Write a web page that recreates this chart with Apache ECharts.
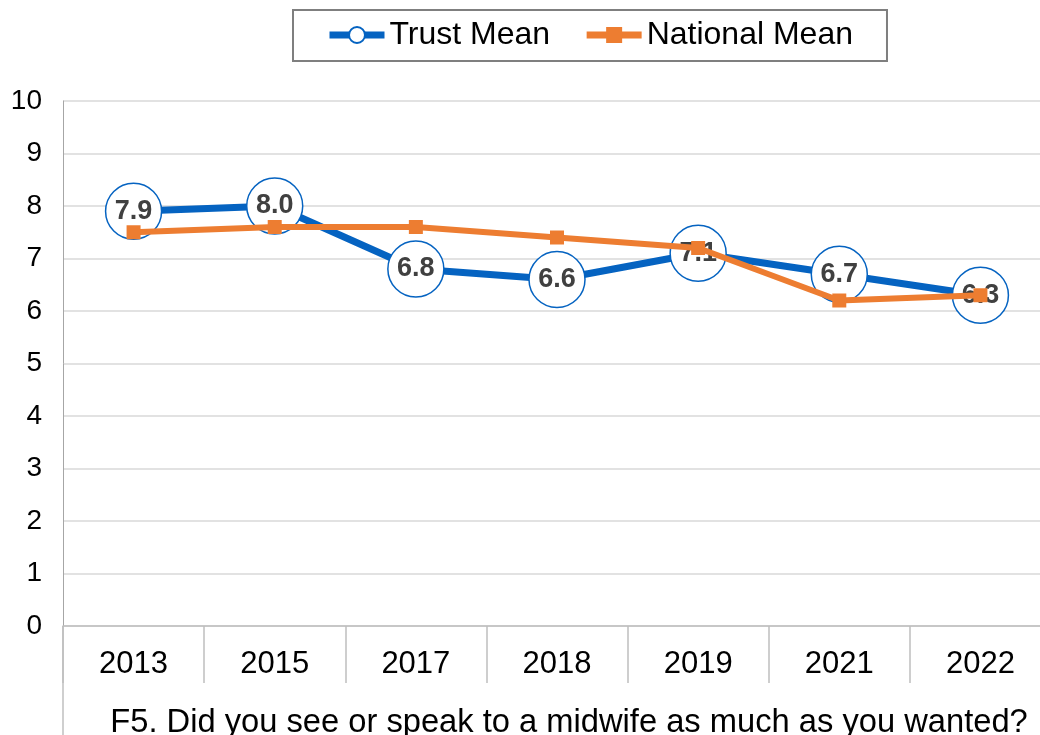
<!DOCTYPE html>
<html>
<head>
<meta charset="utf-8">
<script src="https://cdn.jsdelivr.net/npm/echarts@6/dist/echarts.min.js"></script>
<style>
  html, body { margin: 0; padding: 0; background: #fff; }
  #main { width: 1040px; height: 735px; }
</style>
</head>
<body>
<div id="main"></div>
<script>
var years = ['2013', '2015', '2017', '2018', '2019', '2021', '2022']
var trustMean = [7.9, 8.0, 6.8, 6.6, 7.1, 6.7, 6.3]
var nationalMean = [7.5, 7.6, 7.6, 7.4, 7.2, 6.2, 6.3]
var questionText = 'F5. Did you see or speak to a midwife as much as you wanted?'

var font = 'Liberation Sans, Arial, sans-serif'
var myChart = echarts.init(document.getElementById('main'))

var option = {
    animation: false,
    textStyle: { fontFamily: font },
    legend: {
        left: 293,
        top: 10,
        padding: [9, 34, 10, 33],
        borderColor: '#7f7f7f',
        borderWidth: 2,
        itemWidth: 55,
        itemHeight: 20,
        itemGap: 33,
        lineStyle: { width: 7 },
        textStyle: { fontSize: 32, color: '#000', fontFamily: font },
        data: ['Trust Mean', 'National Mean'],
    },
    grid: { left: 63, right: -11, top: 101, bottom: 109, outerBoundsMode: 'none', containLabel: false },
    xAxis: {
        type: 'category',
        data: years,
        boundaryGap: true,
        name: questionText,
        nameLocation: 'middle',
        nameGap: 80,
        nameTextStyle: { fontSize: 32.7, color: '#000', padding: [0, 0, 0, 24] },
        axisLine: { lineStyle: { color: '#bfbfbf', width: 1.5 } },
        axisTick: { show: true, length: 57, interval: 0, lineStyle: { color: '#bfbfbf', width: 1.5 } },
        axisLabel: { fontSize: 31, color: '#000', margin: 23, interval: 0 },
        splitLine: { show: false },
    },
    yAxis: {
        type: 'value',
        min: 0,
        max: 10,
        interval: 1,
        axisLine: { show: true, lineStyle: { color: '#a6a6a6', width: 1 } },
        axisTick: { show: false },
        axisLabel: { fontSize: 28, color: '#000', margin: 21 },
        splitLine: { lineStyle: { color: '#d9d9d9', width: 1.5 } },
    },
    series: [
        {
            name: 'Trust Mean',
            type: 'line',
            z: 2,
            data: trustMean,
            symbol: 'circle',
            symbolSize: 56,
            color: '#0563c1',
            lineStyle: { color: '#0563c1', width: 7 },
            itemStyle: { color: '#fff', borderColor: '#0563c1', borderWidth: 1.5 },
            label: {
                show: true,
                position: 'inside',
                formatter: function (p) { return p.value.toFixed(1) },
                fontSize: 27,
                fontWeight: 'bold',
                color: '#404040',
                fontFamily: font,
            },
        },
        {
            name: 'National Mean',
            type: 'line',
            z: 5,
            data: nationalMean,
            symbol: 'rect',
            symbolSize: 14,
            color: '#ed7d31',
            lineStyle: { color: '#ed7d31', width: 6 },
            itemStyle: { color: '#ed7d31' },
            label: { show: false },
        },
    ],
}
myChart.setOption(option)

// left border continues down past the category row
var p0 = myChart.convertToPixel({ gridIndex: 0 }, [0, 0])
var leftX = 63
myChart.setOption({
    graphic: [{
        type: 'line',
        shape: { x1: leftX, y1: p0[1], x2: leftX, y2: 735 },
        style: { stroke: '#bfbfbf', lineWidth: 1.5 },
        silent: true,
    }],
})
</script>
</body>
</html>
